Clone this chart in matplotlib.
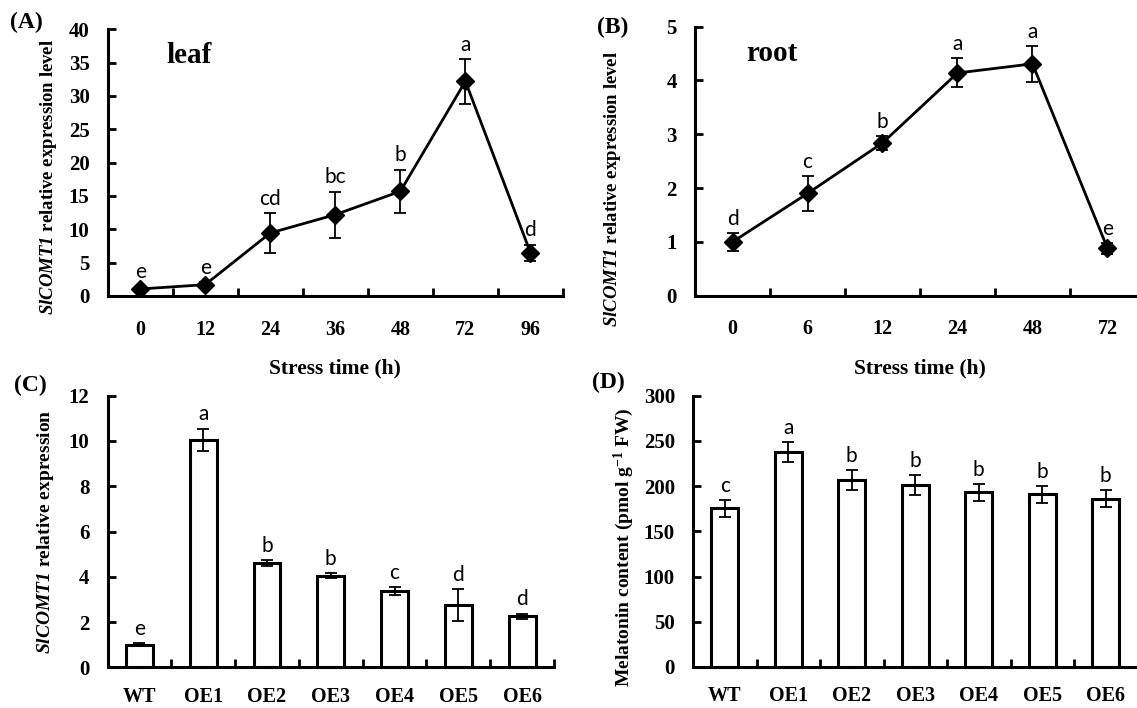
import numpy as np
import matplotlib
matplotlib.use('Agg')
import matplotlib.pyplot as plt

plt.rcParams['font.family'] = 'Liberation Serif'
plt.rcParams['font.weight'] = 'bold'
plt.rcParams['axes.labelweight'] = 'bold'
plt.rcParams['mathtext.fontset'] = 'custom'
plt.rcParams['mathtext.rm'] = 'Liberation Serif:bold'
plt.rcParams['mathtext.bf'] = 'Liberation Serif:bold'
plt.rcParams['mathtext.it'] = 'Liberation Serif:italic:bold'
plt.rcParams['mathtext.bfit'] = 'Liberation Serif:italic:bold'

# (A) leaf
leaf_time = ['0', '12', '24', '36', '48', '72', '96']
leaf_mean = [1.05, 1.7, 9.45, 12.2, 15.7, 32.2, 6.5]
leaf_err = [0.35, 0.4, 3.0, 3.45, 3.25, 3.35, 1.2]
leaf_sig = ['e', 'e', 'cd', 'bc', 'b', 'a', 'd']

# (B) root
root_time = ['0', '6', '12', '24', '48', '72']
root_mean = [1.0, 1.9, 2.84, 4.14, 4.31, 0.88]
root_err = [0.17, 0.33, 0.13, 0.27, 0.33, 0.1]
root_sig = ['d', 'c', 'b', 'a', 'a', 'e']

# (C) expression in lines
lines = ['WT', 'OE1', 'OE2', 'OE3', 'OE4', 'OE5', 'OE6']
expr_mean = [1.0, 10.05, 4.6, 4.05, 3.38, 2.75, 2.25]
expr_err = [0.08, 0.5, 0.13, 0.12, 0.18, 0.7, 0.12]
expr_sig = ['e', 'a', 'b', 'b', 'c', 'd', 'd']

# (D) melatonin
mel_mean = [175.5, 238, 206.5, 201.5, 193, 191, 186]
mel_err = [9.5, 11, 11, 11, 9, 9.5, 9.5]
mel_sig = ['c', 'a', 'b', 'b', 'b', 'b', 'b']

W, H = 1137, 708
fig = plt.figure(figsize=(W/100, H/100), dpi=100)

def px_axes(l, r, t, b):
    return fig.add_axes([l/W, 1-b/H, (r-l)/W, (b-t)/H])

def style(ax, cats, ylim, yticks, xpad=17):
    n = len(cats)
    ax.set_xlim(-0.5, n-0.5)
    ax.set_ylim(*ylim)
    ax.set_yticks(yticks)
    for s in ['top', 'right']:
        ax.spines[s].set_visible(False)
    for s in ['left', 'bottom']:
        ax.spines[s].set_linewidth(2.2)
    ax.set_xticks(np.arange(n+1)-0.5)
    ax.set_xticklabels([])
    ax.set_xticks(np.arange(n), minor=True)
    ax.set_xticklabels(cats, minor=True)
    ax.tick_params(axis='x', which='major', direction='in', length=6, width=2)
    ax.tick_params(axis='x', which='minor', length=0, pad=xpad, labelsize=14.5)
    ax.tick_params(axis='y', direction='in', length=6, width=2, pad=13, labelsize=15)

def letters(ax, means, errs, sig, off=3):
    for i, (m, e, s) in enumerate(zip(means, errs, sig)):
        ax.annotate(s, (i, m+e), xytext=(0, off), textcoords='offset points',
                    ha='center', va='bottom', fontfamily='Lato', fontweight='normal', fontsize=15)

# A
axA = px_axes(107.6, 563, 29.3, 296)
style(axA, leaf_time, (0, 40), np.arange(0, 41, 5))
xa = np.arange(len(leaf_time))
axA.errorbar(xa, leaf_mean, yerr=leaf_err, fmt='none', ecolor='black', elinewidth=1.3, capsize=4, capthick=1.3)
axA.plot(xa, leaf_mean, '-', color='black', lw=2, marker='D', ms=9, mfc='black', mec='black')
letters(axA, leaf_mean, leaf_err, leaf_sig)
axA.set_ylabel(r'$\mathbfit{SlCOMT1}$ relative expression level', fontsize=13.5, va='center')
axA.yaxis.set_label_coords(-0.129, 0.446)
axA.set_xlabel('Stress time (h)', fontsize=15.5)
axA.xaxis.set_label_coords(0.5, -0.235)
axA.text(0.13, 0.9, 'leaf', transform=axA.transAxes, fontsize=21, va='center', ha='left')

# B
axB = px_axes(695, 1145, 26.7, 295.7)
style(axB, root_time, (0, 5), np.arange(0, 6, 1))
xb = np.arange(len(root_time))
axB.errorbar(xb, root_mean, yerr=root_err, fmt='none', ecolor='black', elinewidth=1.3, capsize=4, capthick=1.3)
axB.plot(xb, root_mean, '-', color='black', lw=2, marker='D', ms=9, mfc='black', mec='black')
letters(axB, root_mean, root_err, root_sig)
axB.set_ylabel(r'$\mathbfit{SlCOMT1}$ relative expression level', fontsize=13.5, va='center')
axB.yaxis.set_label_coords(-0.184, 0.397)
axB.set_xlabel('Stress time (h)', fontsize=15.5)
axB.xaxis.set_label_coords(0.5, -0.235)
axB.text(0.113, 0.9, 'root', transform=axB.transAxes, fontsize=21, va='center', ha='left')

# C
axC = px_axes(107.6, 554, 395.7, 667.3)
style(axC, lines, (0, 12), np.arange(0, 13, 2), xpad=14)
xc = np.arange(len(lines))
axC.bar(xc, expr_mean, width=0.42, color='white', edgecolor='black', linewidth=2.2, zorder=2)
axC.errorbar(xc, expr_mean, yerr=expr_err, fmt='none', ecolor='black', elinewidth=1.3, capsize=4, capthick=1.3, zorder=3)
letters(axC, expr_mean, expr_err, expr_sig)
axC.set_ylabel(r'$\mathbfit{SlCOMT1}$ relative expression', fontsize=14, va='center')
axC.yaxis.set_label_coords(-0.14, 0.5)

# D
axD = px_axes(693, 1137.5, 395.7, 667)
style(axD, lines, (0, 300), np.arange(0, 301, 50), xpad=14)
xd = np.arange(len(lines))
axD.bar(xd, mel_mean, width=0.42, color='white', edgecolor='black', linewidth=2.2, zorder=2)
axD.errorbar(xd, mel_mean, yerr=mel_err, fmt='none', ecolor='black', elinewidth=1.3, capsize=4, capthick=1.3, zorder=3)
letters(axD, mel_mean, mel_err, mel_sig)
axD.set_ylabel(r'Melatonin content (pmol g$^{-1}$ FW)', fontsize=14, va='center')
axD.yaxis.set_label_coords(-0.155, 0.442)

# panel labels
fig.text(10/W, 1-22/H, '(A)', fontsize=17, va='center', ha='left')
fig.text(597/W, 1-27/H, '(B)', fontsize=17, va='center', ha='left')
fig.text(14/W, 1-385/H, '(C)', fontsize=17, va='center', ha='left')
fig.text(592/W, 1-382/H, '(D)', fontsize=17, va='center', ha='left')

fig.savefig('out.png', dpi=100)
